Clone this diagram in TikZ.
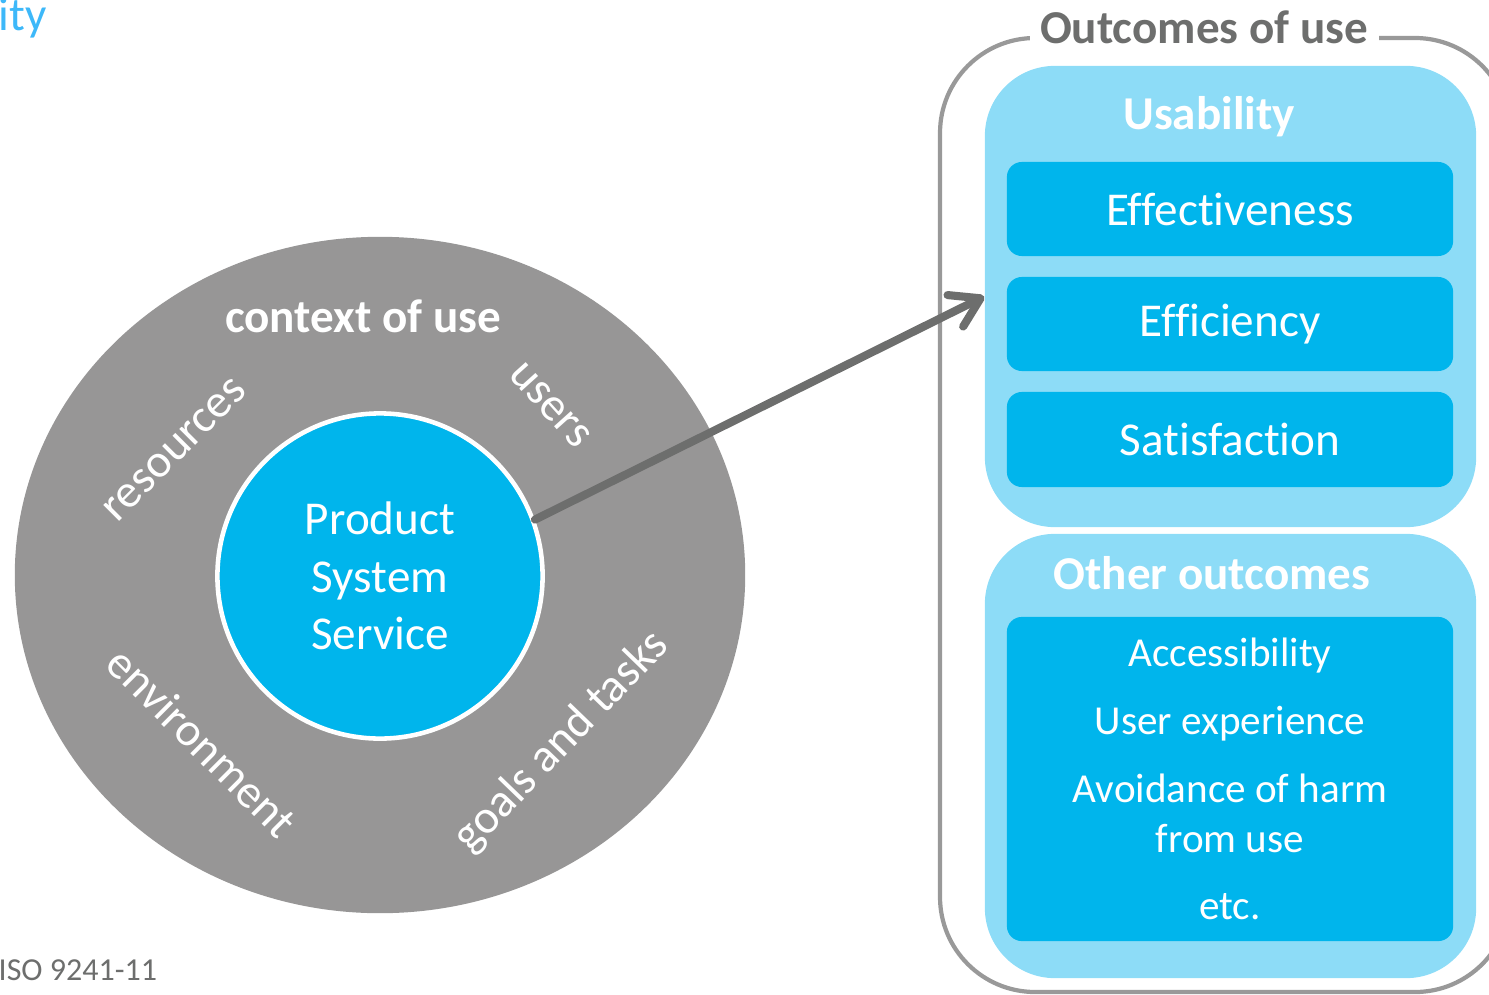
\documentclass[tikz,border=0pt]{standalone}
\usepackage{fontspec}
\setmainfont{Carlito}[Ligatures=NoCommon]
\usetikzlibrary{shapes.geometric,positioning,arrows.meta}
\definecolor{ctxgray}{HTML}{979696}
\definecolor{darkgray}{HTML}{6D6E6D}
\definecolor{framegray}{HTML}{999999}
\definecolor{deepblue}{HTML}{00B5EC}
\definecolor{paleblue}{HTML}{8DDCF7}
\definecolor{skyblue}{HTML}{3DB8F9}
\tikzset{
  bigtext/.style={font=\fontsize{13.4}{16.3}\selectfont},
  boldtext/.style={font=\fontsize{13.4}{16.3}\selectfont\bfseries},
  ctxlabel/.style={bigtext, text=white},
  groupbox/.style={rectangle, fill=paleblue, rounded corners=0.7cm,
    minimum width=4.91cm},
  itembox/.style={rectangle, fill=deepblue, rounded corners=0.15cm,
    minimum width=4.46cm, text=white, bigtext},
}
\begin{document}
\begin{tikzpicture}[x=0.01cm, y=-0.01cm]
    \useasboundingbox (0,0) rectangle (1489,994);
    \clip (0,0) rectangle (1489,994);

    % Context of use
    \node[ellipse, fill=ctxgray, minimum width=7.3cm, minimum height=6.76cm] (ctx) at (380,575) {};
    \node[circle, fill=deepblue, draw=white, line width=1.3pt, minimum size=3.25cm,
          align=center, text=white, bigtext] (prod) at (380,576) {Product\\System\\Service};
    \node[ctxlabel, boldtext] (ctxtitle) at (363,316) {context of use};
    \node[ctxlabel, rotate=45] (res) at (175,450) {resources};
    \node[ctxlabel, rotate=-48] (usr) at (550,405) {users};
    \node[ctxlabel, rotate=-45] (env) at (202,742) {environment};
    \node[ctxlabel, rotate=46] (goals) at (562,742) {goals and tasks};

    % Outcomes of use
    \draw[framegray, line width=1.2pt, rounded corners=0.95cm] (940,38) rectangle (1510,992);
    \node[fill=white, text=darkgray, boldtext,
          inner xsep=3pt, inner ysep=1pt] (outtitle) at (1204,27) {Outcomes of use};

    \node[groupbox, minimum height=4.61cm] (usab) at (1230.5,296.5) {};
    \node[text=white, boldtext] (usabtitle) at (1209,117) {Usability};
    \node[itembox, minimum height=0.94cm] (effect) at (1230,209) {Effectiveness};
    \node[itembox, minimum height=0.94cm] (effic) at (1230,324) {Efficiency};
    \node[itembox, minimum height=0.95cm] (satis) at (1230,439.5) {Satisfaction};

    \node[groupbox, minimum height=4.44cm] (other) at (1230.5,756) {};
    \node[text=white, boldtext] (othertitle) at (1212,573) {Other outcomes};
    \node[itembox, minimum height=3.24cm, align=center,
          font=\fontsize{11.7}{14.2}\selectfont] (otherlist) at (1230,779)
          {Accessibility\\[5.1pt]User experience\\[5.1pt]Avoidance of harm\\from use\\[5.1pt]etc.};

    % Arrow
    \draw[darkgray, line width=2.3pt, line cap=round,
          -{Straight Barb[length=8pt, width=10pt, round]}] (prod.20) -- (usab.west);

    % Side notes
    \node[anchor=west, text=skyblue, bigtext, inner sep=0pt] (cut) at (-2,18) {ity};
    \node[anchor=west, text=darkgray, font=\fontsize{9.1}{11}\selectfont, inner sep=0pt] (src) at (-2,970) {ISO 9241-11};
\end{tikzpicture}
\end{document}
